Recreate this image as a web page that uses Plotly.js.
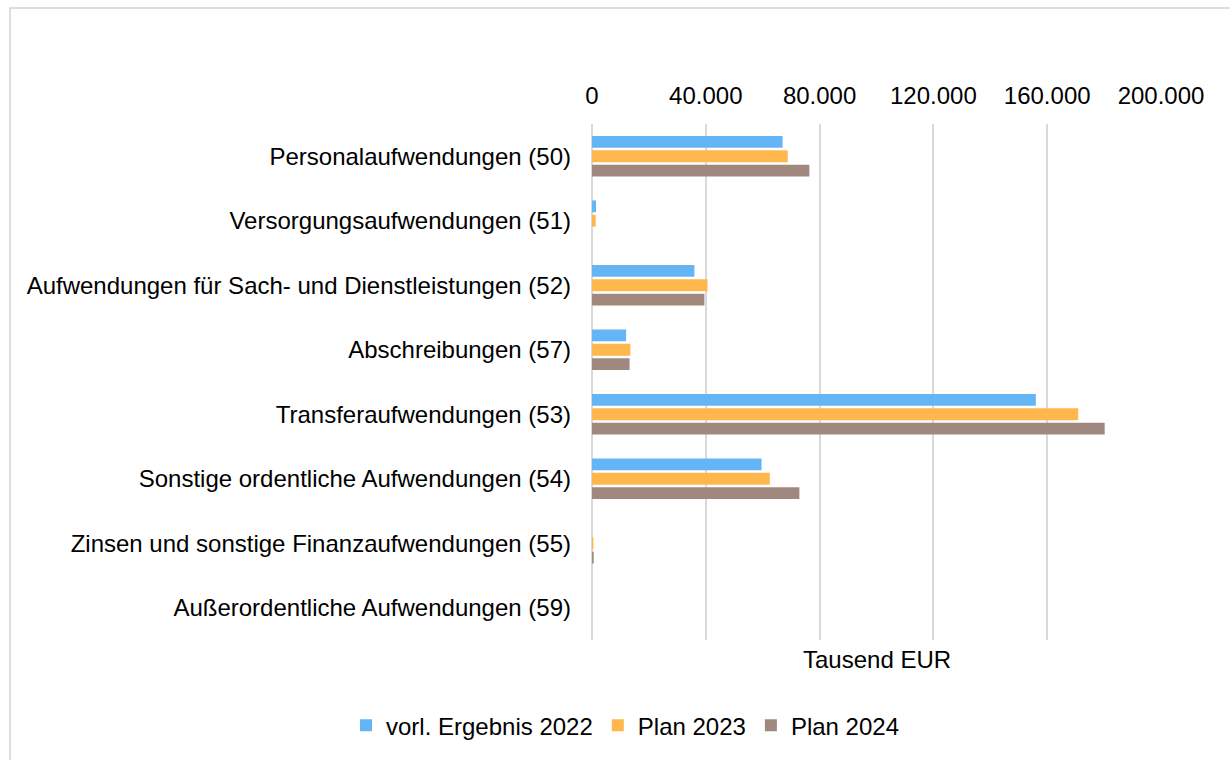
<!DOCTYPE html>
<html>
<head>
<meta charset="utf-8">
<script src="https://cdn.plot.ly/plotly-3.0.1.min.js"></script>
<style>
  html, body { margin: 0; padding: 0; background: #fff; }
  #wrap { position: relative; width: 1230px; height: 760px; overflow: hidden; }
  #chart { position: absolute; left: 0; top: 0; width: 1230px; height: 760px; }
  #frame { position: absolute; left: 9px; top: 7px; width: 1240px; height: 780px;
           border: 2px solid #dedede; box-sizing: border-box; pointer-events: none; }
</style>
</head>
<body>
<div id="wrap">
  <div id="chart"></div>
  <div id="frame"></div>
</div>
<script>
const categories = [
  "Personalaufwendungen (50)",
  "Versorgungsaufwendungen (51)",
  "Aufwendungen für Sach- und Dienstleistungen (52)",
  "Abschreibungen (57)",
  "Transferaufwendungen (53)",
  "Sonstige ordentliche Aufwendungen (54)",
  "Zinsen und sonstige Finanzaufwendungen (55)",
  "Außerordentliche Aufwendungen (59)"
];
const seriesNames = ["vorl. Ergebnis 2022", "Plan 2023", "Plan 2024"];
const ergebnis2022 = [67000, 1400, 36000, 12000, 156000, 59600, 0, 0];
const plan2023 = [68800, 1300, 40600, 13500, 170900, 62500, 500, 0];
const plan2024 = [76400, 0, 39500, 13200, 180200, 72900, 600, 0];
const xTicks = [0, 40000, 80000, 120000, 160000, 200000];
const axisTitle = "Tausend EUR";

const colors = ["#64B5F6", "#FFB74D", "#A1887F"];
const font = "Liberation Sans, Arial, sans-serif";
const values = [ergebnis2022, plan2023, plan2024];

const traces = values.map((v, i) => ({
  type: "bar",
  orientation: "h",
  name: seriesNames[i],
  y: categories,
  x: v,
  marker: { color: colors[i] },
  hoverinfo: "x+name"
}));

const layout = {
  width: 1230,
  height: 760,
  margin: { l: 592, r: 69, t: 124, b: 118 },
  paper_bgcolor: "#fff",
  plot_bgcolor: "#fff",
  separators: ",.",
  font: { family: font, size: 24, color: "#000" },
  barmode: "group",
  bargap: 0.33,
  bargroupgap: 0.18,
  showlegend: true,
  legend: {
    orientation: "h",
    x: 0.058, xanchor: "center",
    y: -0.166, yanchor: "middle",
    font: { family: font, size: 24, color: "#000" },
    itemwidth: 30,
    traceorder: "normal"
  },
  xaxis: {
    side: "top",
    range: [0, 200000],
    tickvals: xTicks,
    tickformat: ",d",
    showgrid: true,
    gridcolor: "#d9d9d9",
    gridwidth: 2,
    zeroline: true,
    zerolinecolor: "#d9d9d9",
    zerolinewidth: 2,
    showline: false,
    ticks: "",
    ticklabelstandoff: 14,
    tickfont: { family: font, size: 24, color: "#000" },
    fixedrange: true
  },
  yaxis: {
    type: "category",
    autorange: "reversed",
    showgrid: false,
    zeroline: false,
    showline: false,
    ticks: "",
    ticklabelstandoff: 20,
    tickfont: { family: font, size: 24, color: "#000" },
    fixedrange: true
  },
  annotations: [{
    text: axisTitle,
    xref: "paper", yref: "paper",
    x: 0.5, y: -0.0386,
    xanchor: "center", yanchor: "middle",
    showarrow: false,
    font: { family: font, size: 24, color: "#000" }
  }]
};

Plotly.newPlot("chart", traces, layout, { displayModeBar: false, staticPlot: true });
</script>
</body>
</html>
